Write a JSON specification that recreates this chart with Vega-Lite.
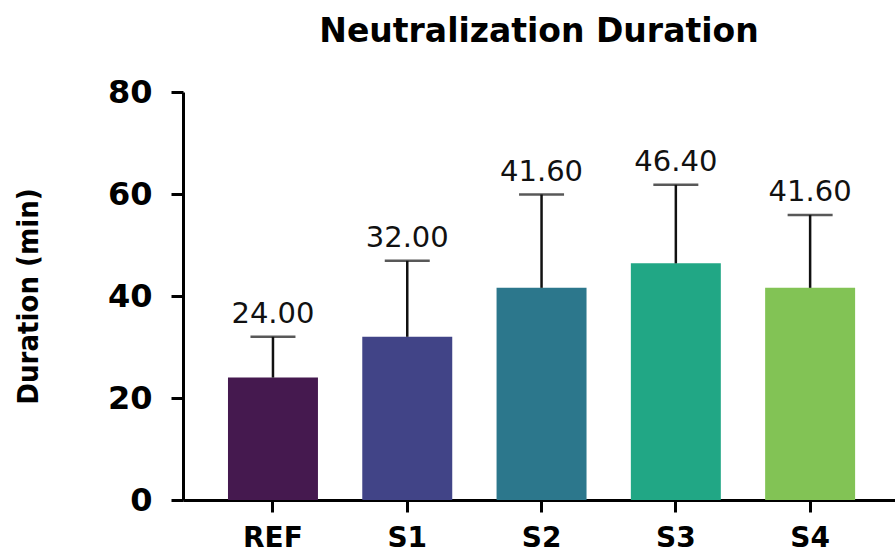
{
  "$schema": "https://vega.github.io/schema/vega-lite/v6.json",
  "width": 712,
  "height": 408,
  "autosize": {"type": "none"},
  "padding": {"left": 183, "top": 92, "right": 0, "bottom": 56},
  "background": "white",
  "title": {
    "text": "Neutralization Duration",
    "font": "DejaVu Sans",
    "fontSize": 33,
    "fontWeight": "bold",
    "color": "#000000",
    "anchor": "middle",
    "frame": "group",
    "offset": 27
  },
  "config": {
    "view": {"stroke": null},
    "axis": {"grid": false, "domainColor": "#000", "tickColor": "#000", "labelColor": "#000", "titleColor": "#000"}
  },
  "data": {
    "values": [
      {"group": "REF", "mean": 24.0, "upper": 32.0},
      {"group": "S1", "mean": 32.0, "upper": 46.9},
      {"group": "S2", "mean": 41.6, "upper": 59.9},
      {"group": "S3", "mean": 46.4, "upper": 61.8},
      {"group": "S4", "mean": 41.6, "upper": 55.9}
    ]
  },
  "encoding": {
    "x": {
      "field": "group",
      "type": "nominal",
      "sort": null,
      "scale": {"paddingInner": 0.33, "paddingOuter": 0.316, "align": 0.53},
      "axis": {
        "title": null,
        "labelAngle": 0,
        "labelFont": "DejaVu Sans",
        "labelFontWeight": "bold",
        "labelFontSize": 28,
        "labelPadding": 12,
        "tickSize": 12,
        "tickWidth": 3,
        "domainWidth": 3
      }
    }
  },
  "layer": [
    {
      "mark": {"type": "bar"},
      "encoding": {
        "y": {
          "field": "mean",
          "type": "quantitative",
          "scale": {"domain": [0, 80], "nice": false},
          "axis": {
            "title": "Duration (min)",
            "values": [0, 20, 40, 60, 80],
            "labelFont": "DejaVu Sans",
            "labelFontWeight": "bold",
            "labelFontSize": 32,
            "labelPadding": 19,
            "tickSize": 12,
            "tickWidth": 3,
            "domainWidth": 3,
            "titleFont": "DejaVu Sans Condensed",
            "titleFontWeight": "bold",
            "titleFontSize": 29,
            "titleX": -140,
            "titleY": 204,
            "titleBaseline": "bottom"
          }
        },
        "color": {
          "field": "group",
          "type": "nominal",
          "sort": null,
          "scale": {"range": ["#45194F", "#414487", "#2C778C", "#21A785", "#82C355"]},
          "legend": null
        }
      }
    },
    {
      "mark": {"type": "rule", "color": "#111", "strokeWidth": 2.5},
      "encoding": {
        "y": {"field": "mean", "type": "quantitative"},
        "y2": {"field": "upper"}
      }
    },
    {
      "mark": {"type": "tick", "color": "#111", "thickness": 2.5, "size": 45},
      "encoding": {
        "y": {"field": "upper", "type": "quantitative"}
      }
    },
    {
      "mark": {"type": "text", "font": "DejaVu Sans", "fontSize": 29, "baseline": "alphabetic", "dy": -14, "color": "#111"},
      "encoding": {
        "y": {"field": "upper", "type": "quantitative"},
        "text": {"field": "mean", "type": "quantitative", "format": ".2f"}
      }
    }
  ]
}
